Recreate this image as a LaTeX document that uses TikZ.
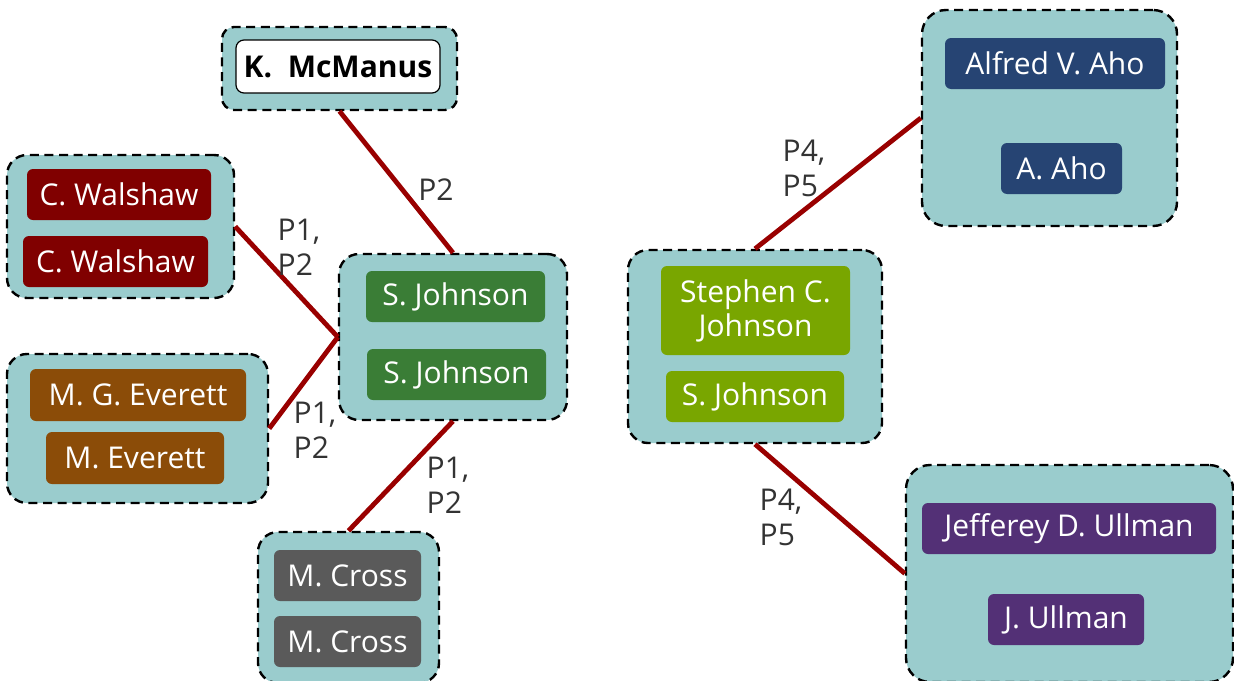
\documentclass[tikz,border=0pt]{standalone}
\usepackage{fontspec}
\setmainfont{Open Sans}
\usetikzlibrary{positioning}
\definecolor{grpbg}{RGB}{154,204,205}
\definecolor{walshred}{RGB}{128,0,0}
\definecolor{everbrown}{RGB}{139,76,8}
\definecolor{johngreen}{RGB}{58,125,54}
\definecolor{crossgrey}{RGB}{90,90,90}
\definecolor{stevegreen}{RGB}{121,166,0}
\definecolor{ahoblue}{RGB}{38,68,115}
\definecolor{ullpurple}{RGB}{83,48,118}
\definecolor{linkred}{RGB}{153,0,0}
\definecolor{lblgrey}{RGB}{51,51,51}
\tikzset{
  grp/.style={rectangle, draw=black, fill=grpbg, line width=1.2pt, dash pattern=on 4.5pt off 2.8pt, rounded corners=10pt},
  sz/.style 2 args={minimum width=#1*0.5pt, minimum height=#2*0.5pt, inner sep=0pt},
  person/.style={rectangle, fill=#1, text=white, rounded corners=3pt, font=\fontsize{15}{17}\selectfont, align=center},
  plain/.style={rectangle, draw=black, fill=white, line width=0.6pt, rounded corners=4pt, font=\fontsize{15}{17}\selectfont\bfseries},
  link/.style={draw=linkred, line width=2.4pt},
  lbl/.style={text=lblgrey, font=\fontsize{15}{17.5}\selectfont, align=left, inner sep=0pt},
}
\begin{document}
\begin{tikzpicture}[x=0.5pt,y=-0.5pt]
  \useasboundingbox (0,0) rectangle (1234,680);
  % groups
  \node[grp,sz={235}{83},rounded corners=6pt] (gmc) at (339.5,68.5) {};
  \node[grp,sz={227}{143}] (gwal) at (120.5,226.5) {};
  \node[grp,sz={261}{149}] (gev) at (137.5,428.5) {};
  \node[grp,sz={228}{166}] (gsj) at (453,337) {};
  \node[grp,sz={181}{151}] (gcr) at (348.5,607.5) {};
  \node[grp,sz={254}{193}] (gst) at (755,346.5) {};
  \node[grp,sz={255}{216},rounded corners=12pt] (gaho) at (1049.5,118) {};
  \node[grp,sz={327}{217},rounded corners=12pt] (gul) at (1069.5,573.5) {};
  % people
  \node[plain,sz={204}{53}] (mc) at (338,66.5) {K.~~McManus};
  \node[person=walshred,sz={184}{51}] (wal1) at (119,194.5) {C. Walshaw};
  \node[person=walshred,sz={185}{51}] (wal2) at (115.5,261.5) {C. Walshaw};
  \node[person=everbrown,sz={216}{52}] (ev1) at (138,395) {M. G. Everett};
  \node[person=everbrown,sz={178}{52}] (ev2) at (135,458) {M. Everett};
  \node[person=johngreen,sz={179}{51}] (sj1) at (455.5,296.5) {S. Johnson};
  \node[person=johngreen,sz={179}{51}] (sj2) at (456.5,374.5) {S. Johnson};
  \node[person=crossgrey,sz={147}{51}] (cr1) at (347.5,575.5) {M. Cross};
  \node[person=crossgrey,sz={147}{51}] (cr2) at (347.5,641.5) {M. Cross};
  \node[person=stevegreen,sz={189}{89}] (st1) at (755.5,310.5) {Stephen C.\\Johnson};
  \node[person=stevegreen,sz={178}{51}] (st2) at (755,396.5) {S. Johnson};
  \node[person=ahoblue,sz={220}{51}] (aho1) at (1055,63.5) {Alfred V. Aho};
  \node[person=ahoblue,sz={121}{51}] (aho2) at (1061.5,168.5) {A. Aho};
  \node[person=ullpurple,sz={294}{51}] (ul1) at (1069,528.5) {Jefferey D. Ullman};
  \node[person=ullpurple,sz={156}{51}] (ul2) at (1066,619.5) {J. Ullman};
  % links
  \path[link]
    (gmc.south) -- (gsj.north)
    (gwal.east) -- (gsj.west)
    (gev.east) -- (gsj.west)
    (gsj.south) -- (gcr.north)
    (gst.north) -- (gaho.west)
    (gst.south) -- (gul.west);
  \node[lbl] (lmc) at (436,190) {P2};
  \node[lbl] (lwal) at (299,247) {P1,\\P2};
  \node[lbl] (lev) at (315,430) {P1,\\P2};
  \node[lbl] (lcr) at (448,485) {P1,\\P2};
  \node[lbl] (laho) at (804,168) {P4,\\P5};
  \node[lbl] (lul) at (781,517) {P4,\\P5};
\end{tikzpicture}
\end{document}
